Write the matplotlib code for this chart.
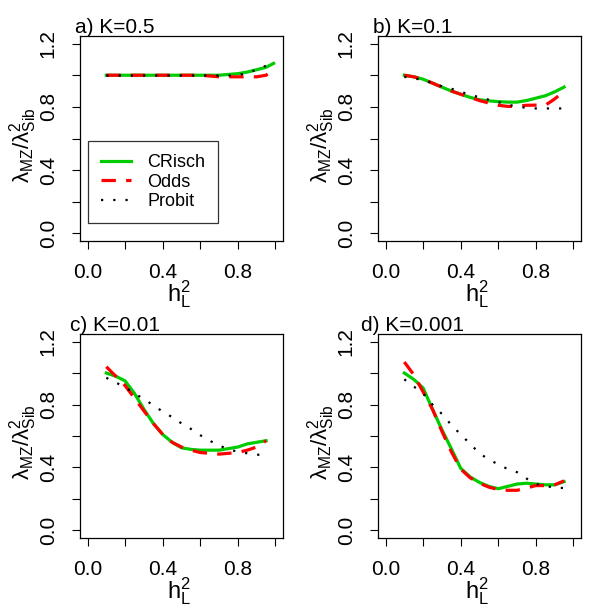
import numpy as np
import matplotlib.pyplot as plt

plt.rcParams['font.family'] = ['Liberation Sans', 'DejaVu Sans']
plt.rcParams['mathtext.fontset'] = 'custom'
plt.rcParams['mathtext.rm'] = 'Liberation Sans'
plt.rcParams['mathtext.it'] = 'Liberation Sans:italic'
plt.rcParams['mathtext.bf'] = 'Liberation Sans:bold'

# heritability grid
h2 = [0.1, 0.15, 0.2, 0.25, 0.3, 0.35, 0.4, 0.45, 0.5, 0.55,
      0.6, 0.65, 0.7, 0.75, 0.8, 0.85, 0.9, 0.95]
h2_a = h2 + [0.99]

# a) K=0.5
crisch_a = [1.0, 1.0, 1.0, 1.0, 1.0, 1.0, 1.0, 1.0, 1.0, 1.0,
            1.0, 1.0, 1.0, 1.005, 1.01, 1.02, 1.035, 1.05, 1.075]
odds_a = [1.0, 1.0, 1.0, 1.0, 1.0, 1.0, 1.0, 1.0, 1.0, 1.0,
          1.0, 0.995, 0.99, 0.99, 0.99, 0.99, 0.99, 1.0, 1.035]
probit_a = [0.998, 0.998, 0.998, 0.998, 0.998, 0.998, 0.998, 0.998, 0.998, 0.998,
            0.998, 0.998, 0.998, 0.998, 1.0, 1.015, 1.035, 1.06, 1.085]

# b) K=0.1
crisch_b = [1.0, 0.99, 0.975, 0.95, 0.925, 0.9, 0.88, 0.86, 0.845, 0.838,
            0.833, 0.83, 0.83, 0.84, 0.855, 0.87, 0.895, 0.925]
odds_b = [1.0, 0.99, 0.975, 0.95, 0.925, 0.9, 0.88, 0.86, 0.84, 0.824,
          0.81, 0.803, 0.803, 0.81, 0.811, 0.81, 0.85, 0.9]
probit_b = [0.99, 0.98, 0.97, 0.95, 0.93, 0.915, 0.895, 0.877, 0.86, 0.845,
            0.83, 0.815, 0.8, 0.795, 0.79, 0.79, 0.79, 0.79]

# c) K=0.01
crisch_c = [1.0, 0.98, 0.95, 0.87, 0.77, 0.68, 0.61, 0.56, 0.525, 0.515,
            0.51, 0.51, 0.51, 0.52, 0.53, 0.55, 0.56, 0.57]
odds_c = [1.04, 0.98, 0.92, 0.84, 0.76, 0.68, 0.61, 0.56, 0.53, 0.51,
          0.495, 0.49, 0.485, 0.49, 0.495, 0.51, 0.53, 0.57]
probit_c = [0.97, 0.94, 0.91, 0.87, 0.835, 0.795, 0.755, 0.72, 0.68, 0.645,
            0.605, 0.57, 0.54, 0.515, 0.5, 0.49, 0.48, 0.485]

# d) K=0.001
crisch_d = [1.0, 0.96, 0.905, 0.77, 0.64, 0.52, 0.395, 0.34, 0.305, 0.28,
            0.265, 0.28, 0.295, 0.3, 0.295, 0.29, 0.29, 0.31]
odds_d = [1.07, 0.99, 0.88, 0.77, 0.63, 0.5, 0.39, 0.335, 0.3, 0.275,
          0.26, 0.255, 0.255, 0.27, 0.285, 0.285, 0.29, 0.315]
probit_d = [0.96, 0.915, 0.87, 0.8, 0.74, 0.67, 0.61, 0.55, 0.49, 0.45,
            0.42, 0.39, 0.37, 0.33, 0.295, 0.285, 0.27, 0.27]

panels = [
    ('a) K=0.5', h2_a, crisch_a, odds_a, probit_a),
    ('b) K=0.1', h2, crisch_b, odds_b, probit_b),
    ('c) K=0.01', h2, crisch_c, odds_c, probit_c),
    ('d) K=0.001', h2, crisch_d, odds_d, probit_d),
]

W, H = 600, 613
fig = plt.figure(figsize=(6, 6.13), dpi=100)
boxes = [(80, 36, 283, 241), (378, 36, 581, 241),
         (80, 334, 283, 538), (378, 334, 581, 538)]

fs = 15
for (title, x, cr, od, pr), (l, t, r, b) in zip(panels, boxes):
    ax = fig.add_axes([l / W, 1 - b / H, (r - l) / W, (b - t) / H])
    ax.plot(x, cr, color='#00cc00', lw=2.3, label='CRisch')
    ax.plot(x, od, color='#ff0000', lw=2.3, dashes=(4.5, 3.2), label='Odds')
    ax.plot(x, pr, color='black', lw=1.6, dashes=(1, 4.5), label='Probit')

    ax.set_xlim(-0.04, 1.04)
    ax.set_ylim(-0.048, 1.248)
    ax.set_xticks([0, 0.2, 0.4, 0.6, 0.8, 1.0])
    ax.set_xticklabels(['0.0', '', '0.4', '', '0.8', ''])
    ax.set_yticks([0, 0.2, 0.4, 0.6, 0.8, 1.0, 1.2])
    ax.set_yticklabels(['0.0', '', '0.4', '', '0.8', '', '1.2'])
    ax.tick_params(axis='both', direction='out', length=6, width=0.8, labelsize=fs)
    ax.tick_params(axis='x', pad=10)
    ax.tick_params(axis='y', pad=10)
    for lab in ax.get_yticklabels():
        lab.set_rotation(90)
        lab.set_va('center')
    for sp in ax.spines.values():
        sp.set_linewidth(0.9)

    ax.set_ylabel(r'$\mathrm{\lambda_{MZ}/\lambda^2_{Sib}}$', fontsize=16)
    ax.yaxis.set_label_coords(-0.2, 0.468)
    ax.set_xlabel(r'$\mathrm{h^2_L}$', fontsize=17, va='top')
    ax.xaxis.set_label_coords(0.49, -0.182)

    ax.text(0.172, 1.015, title, transform=ax.transAxes, ha='center',
            va='baseline', fontsize=fs)

    if title.startswith('a'):
        leg = ax.legend(loc='lower left', bbox_to_anchor=(0.039, 0.088),
                        fontsize=13, frameon=True, fancybox=False,
                        edgecolor='black', handlelength=1.7,
                        handletextpad=0.9, labelspacing=0.15,
                        borderpad=0.7, borderaxespad=0)
        leg.get_frame().set_linewidth(0.9)

fig.savefig('out.png', dpi=100)
